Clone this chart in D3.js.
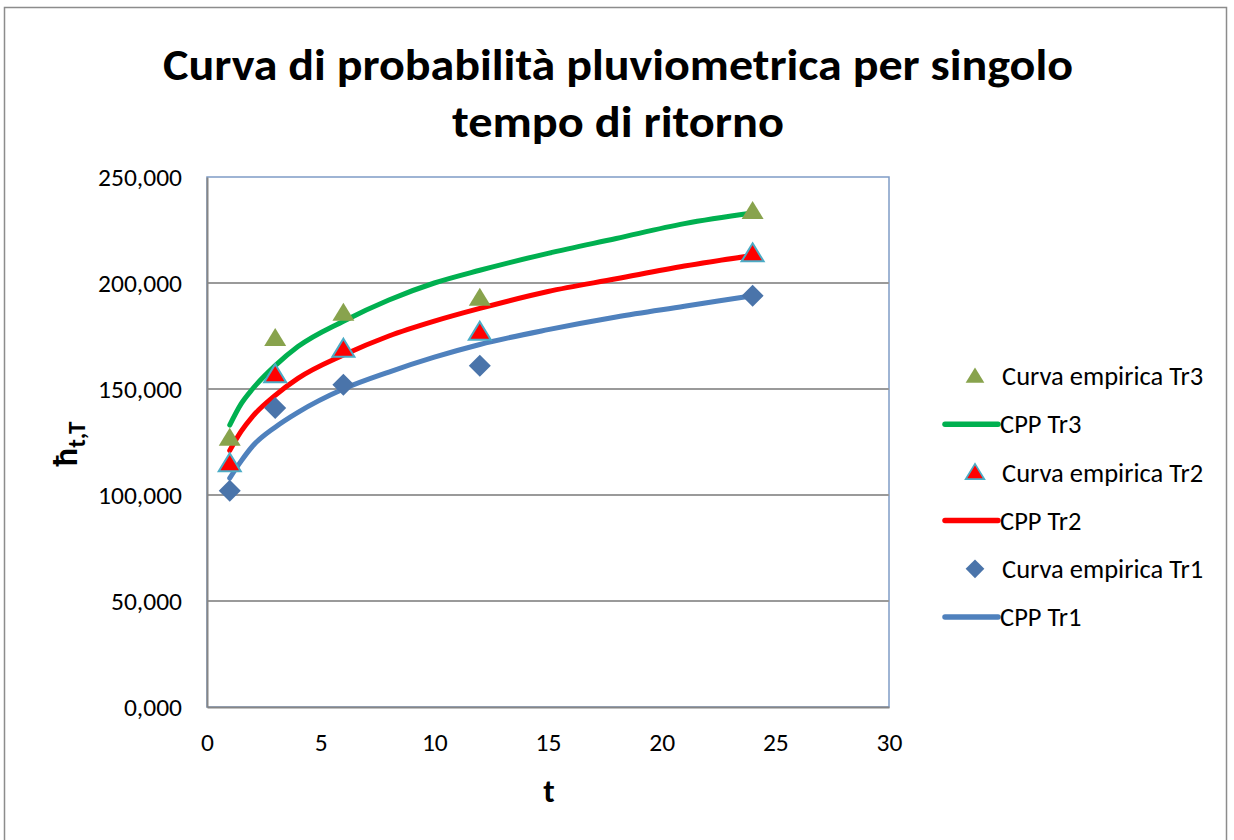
<!DOCTYPE html>
<html>
<head>
<meta charset="utf-8">
<script src="https://cdn.jsdelivr.net/npm/d3@7"></script>
<style>
  body { margin: 0; background: #fff; }
  text { font-family: Carlito, Calibri, "Open Sans", "Noto Sans", sans-serif; fill: #000; }
</style>
</head>
<body>
<svg id="chart"></svg>
<script>
// empirical points (t in hours)
const tEmp = [1, 3, 6, 12, 24];
const empTr3 = [127, 174, 186, 193, 234];
const empTr2 = [115, 157, 169, 177, 214];
const empTr1 = [102, 141, 152, 161, 194];

// CPP curves
const tCpp = [1, 1.5, 2, 3, 4, 6, 8, 10, 12, 15, 18, 21, 24];
const cppTr3 = [133, 143, 150, 161, 170, 182, 192, 200, 206, 214, 221, 228, 233];
const cppTr2 = [121, 130, 137, 147, 155, 166, 175, 182, 188, 196, 202, 208, 213];
const cppTr1 = [108, 116, 123, 132, 139, 150, 158, 165, 171, 178, 184, 189, 194];

const xTicks = [0, 5, 10, 15, 20, 25, 30];
const yTicks = [0, 50, 100, 150, 200, 250];

const legendLabels = ["Curva empirica Tr3", "CPP Tr3", "Curva empirica Tr2", "CPP Tr2", "Curva empirica Tr1", "CPP Tr1"];

const W = 1234, H = 840;
const margin = {top: 177, right: 345, bottom: 133, left: 207};
const width = W - margin.left - margin.right;   // 682
const height = H - margin.top - margin.bottom;  // 530

const svg = d3.select('#chart').attr('width', W).attr('height', H);

// outer chart frame
svg.append('rect')
  .attr('x', 4.5).attr('y', 7.5)
  .attr('width', 1222).attr('height', 845)
  .attr('fill', 'none').attr('stroke', '#8c8c8c').attr('stroke-width', 1.5);

// title
const title = svg.append('text')
  .attr('text-anchor', 'middle')
  .style('font-weight', 'bold')
  .style('font-size', '44px');
title.append('tspan').attr('x', 618).attr('y', 80)
  .attr('textLength', 910).attr('lengthAdjust', 'spacingAndGlyphs')
  .text('Curva di probabilità pluviometrica per singolo');
title.append('tspan').attr('x', 618).attr('y', 137)
  .attr('textLength', 332).attr('lengthAdjust', 'spacingAndGlyphs')
  .text('tempo di ritorno');

const x = d3.scaleLinear([0, 30], [0, width]);
const y = d3.scaleLinear([0, 250], [height, 0]);

const itFmt = d3.formatLocale({decimal: ',', thousands: '.', grouping: [3], currency: ['', '€']}).format('.3f');

const chart = svg.append('g')
  .attr('transform', `translate(${margin.left},${margin.top})`);

// plot area border (top/right bluish)
chart.append('rect')
  .attr('x', 0).attr('y', 0).attr('width', width).attr('height', height)
  .attr('fill', 'none').attr('stroke', '#7f9cc6').attr('stroke-width', 1.5);

// gridlines
chart.append('g')
  .selectAll('line')
  .data(yTicks.filter(d => d > 0 && d < 250))
  .join('line')
    .attr('x1', 0).attr('x2', width)
    .attr('y1', d => y(d)).attr('y2', d => y(d))
    .attr('stroke', '#9a9a9a').attr('stroke-width', 2);

// axes
const yAxisG = chart.append('g')
  .call(d3.axisLeft(y).tickValues(yTicks).tickFormat(itFmt).tickSize(0).tickPadding(25));
yAxisG.select('.domain').attr('stroke', '#868686').attr('stroke-width', 2);
yAxisG.selectAll('text').style('font-size', '25.5px').attr('fill', '#000');

const xAxisG = chart.append('g')
  .attr('transform', `translate(0,${height})`)
  .call(d3.axisBottom(x).tickValues(xTicks).tickSize(0).tickPadding(26));
xAxisG.select('.domain').attr('stroke', '#868686').attr('stroke-width', 2);
xAxisG.selectAll('text').style('font-size', '25.5px').attr('fill', '#000');

// axis titles
chart.append('text')
  .attr('x', x(15) + 1).attr('y', height + 95)
  .attr('text-anchor', 'middle')
  .style('font-size', '33px').style('font-weight', 'bold')
  .text('t');

const yTitle = svg.append('text')
  .attr('transform', 'translate(77,444) rotate(-90)')
  .attr('text-anchor', 'middle')
  .style('font-weight', 'bold');
yTitle.append('tspan').style('font-size', '34px').text('ħ');
yTitle.append('tspan').style('font-size', '25px').attr('dy', 8).text('t,T');

// curves
const line = d3.line()
  .x(d => x(d[0]))
  .y(d => y(d[1]))
  .curve(d3.curveMonotoneX);

const curves = [
  {vals: cppTr3, color: '#00b050'},
  {vals: cppTr2, color: '#ff0000'},
  {vals: cppTr1, color: '#4f81bd'}
];
chart.selectAll('.cpp')
  .data(curves)
  .join('path')
    .attr('class', 'cpp')
    .attr('d', c => line(tCpp.map((t, i) => [t, c.vals[i]])))
    .attr('fill', 'none')
    .attr('stroke', c => c.color)
    .attr('stroke-width', 5)
    .attr('stroke-linecap', 'round');

// markers
const triPath = 'M0,-10 L11,8 L-11,8 Z';
const diaPath = 'M0,-11 L11,0 L0,11 L-11,0 Z';
const markerStyles = {
  tr3: {d: triPath, fill: '#88a34d', stroke: 'none', sw: 0},
  tr2: {d: triPath, fill: '#ff0000', stroke: '#4bacc6', sw: 2},
  tr1: {d: diaPath, fill: '#4a74aa', stroke: 'none', sw: 0}
};

const empSeries = [
  {vals: empTr1, style: markerStyles.tr1},
  {vals: empTr2, style: markerStyles.tr2},
  {vals: empTr3, style: markerStyles.tr3}
];
empSeries.forEach(s => {
  chart.append('g')
    .selectAll('path')
    .data(tEmp.map((t, i) => [t, s.vals[i]]))
    .join('path')
      .attr('transform', d => `translate(${x(d[0])},${y(d[1])})`)
      .attr('d', s.style.d)
      .attr('fill', s.style.fill)
      .attr('stroke', s.style.stroke)
      .attr('stroke-width', s.style.sw);
});

// legend
const legendItems = [
  {label: legendLabels[0], type: 'marker', style: markerStyles.tr3},
  {label: legendLabels[1], type: 'line', color: '#00b050'},
  {label: legendLabels[2], type: 'marker', style: markerStyles.tr2},
  {label: legendLabels[3], type: 'line', color: '#ff0000'},
  {label: legendLabels[4], type: 'marker', style: markerStyles.tr1},
  {label: legendLabels[5], type: 'line', color: '#4f81bd'}
];
const legend = svg.append('g').attr('transform', 'translate(943,376)');
const rows = legend.selectAll('g')
  .data(legendItems)
  .join('g')
    .attr('transform', (d, i) => `translate(0,${i * 48.2})`);
rows.filter(d => d.type === 'line').append('line')
  .attr('x1', 2).attr('x2', 55).attr('y1', 0).attr('y2', 0)
  .attr('stroke', d => d.color).attr('stroke-width', 5.5).attr('stroke-linecap', 'round');
rows.filter(d => d.type === 'marker').append('path')
  .attr('transform', 'translate(32,0) scale(0.85)')
  .attr('d', d => d.style.d)
  .attr('fill', d => d.style.fill)
  .attr('stroke', d => d.style.stroke)
  .attr('stroke-width', d => d.style.sw);
rows.append('text')
  .attr('x', d => d.type === 'line' ? 57 : 59)
  .attr('y', 0)
  .attr('dy', '0.35em')
  .style('font-size', '26.5px')
  .text(d => d.label);
</script>
</body>
</html>
